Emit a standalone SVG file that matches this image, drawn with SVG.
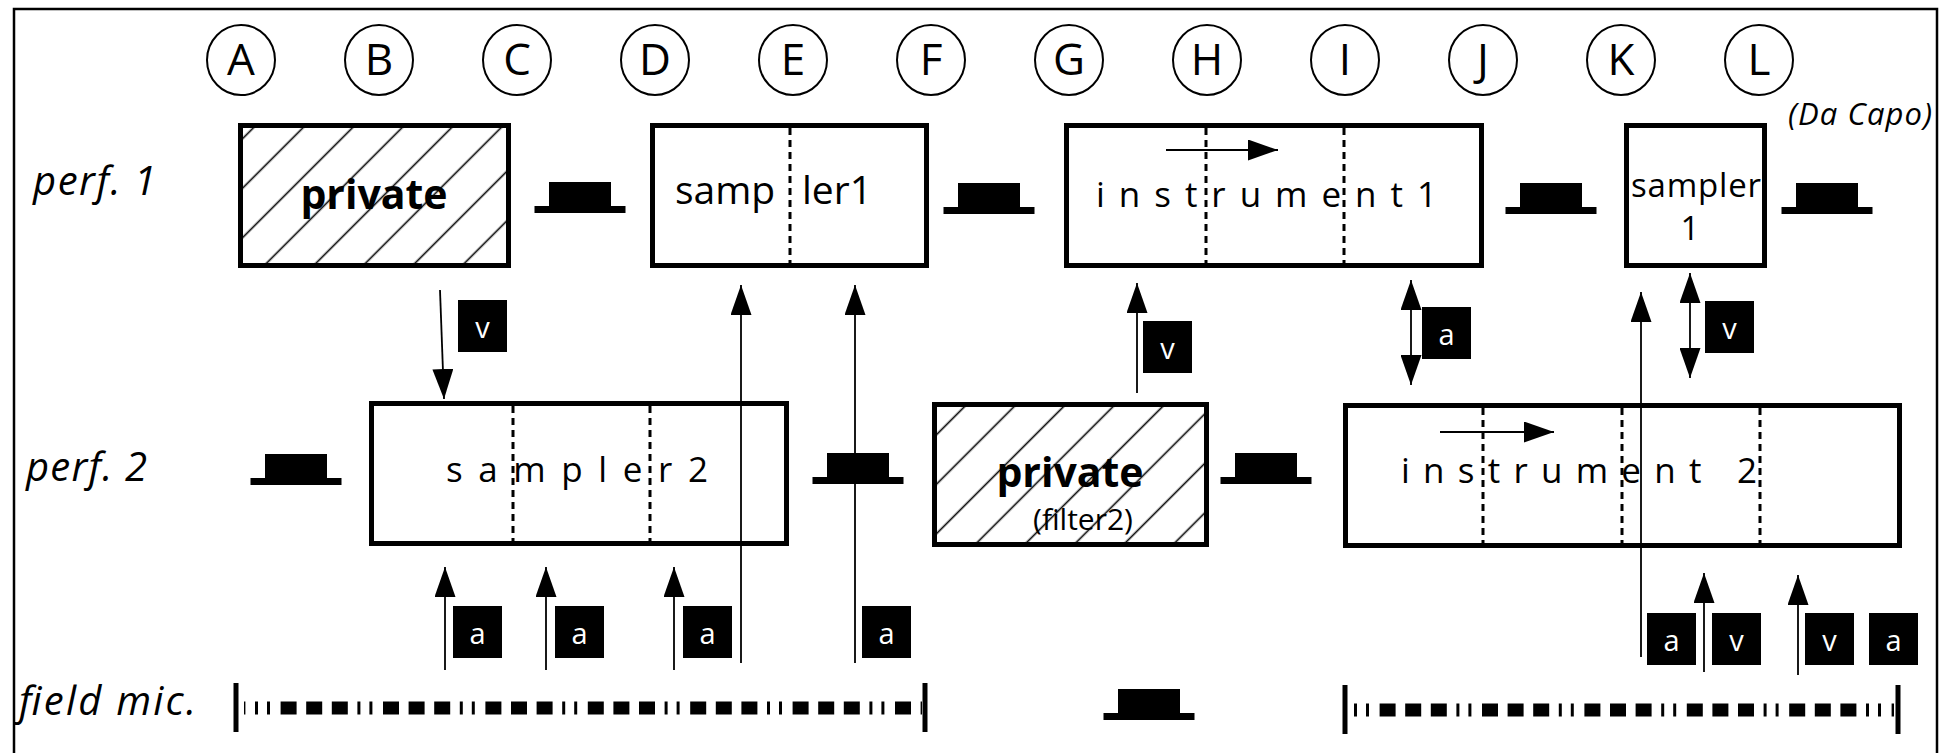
<svg xmlns="http://www.w3.org/2000/svg" width="1948" height="753" viewBox="0 0 1948 753">
<defs>
<style>
.box{fill:#fff;stroke:#000;stroke-width:5}
.hatched{fill:url(#hatch);stroke:#000;stroke-width:5}
.div{stroke:#000;stroke-width:3;stroke-dasharray:7 5}
.col{fill:none;stroke:#000;stroke-width:2}
.colt{font-family:"Open Sans","Noto Sans",sans-serif;font-size:44px;text-anchor:middle}
.lab{font-family:"Open Sans","Noto Sans",sans-serif;font-style:italic;font-size:40px}
.name{font-family:"Open Sans","Noto Sans",sans-serif;font-size:35px}
.priv{font-family:"Open Sans","Noto Sans",sans-serif;font-weight:bold;font-size:41px;text-anchor:middle}
.sub{font-family:"Open Sans","Noto Sans",sans-serif;font-size:30px;text-anchor:middle}
.wire{stroke:#000;stroke-width:1.8;fill:none}
.arr{marker-end:url(#ah)}
.dbl{marker-start:url(#ah);marker-end:url(#ah)}
.tagt{fill:#fff;font-family:"Open Sans","Noto Sans",sans-serif;font-size:29px;text-anchor:middle}
.mic{stroke:#000;stroke-width:13;stroke-dasharray:16 9.6 16 9.6 16 9.6 3 9 3 10.6;fill:none}
.end{stroke:#000;stroke-width:5}
</style>
<pattern id="hatch" patternUnits="userSpaceOnUse" width="35" height="35" patternTransform="translate(10,0) rotate(45)">
<rect width="35" height="35" fill="#fff"/>
<line x1="17.5" y1="0" x2="17.5" y2="35" stroke="#000" stroke-width="1.6"/>
</pattern>
<marker id="ah" markerUnits="userSpaceOnUse" markerWidth="30" markerHeight="21" refX="30" refY="10.5" orient="auto-start-reverse" viewBox="0 0 30 21">
<path d="M0,0 L30,10.5 L0,21 Z" fill="#000"/>
</marker>
<g id="hat">
<rect x="-31" y="-24" width="62" height="24" fill="#000"/>
<rect x="-45.5" y="0" width="91" height="7" fill="#000"/>
</g>
<rect id="tag" width="49" height="52" fill="#000"/>
</defs>

<rect x="0" y="0" width="1948" height="753" fill="#fff"/>
<!-- outer frame -->
<path d="M14,770 V9 H1937 V770" fill="none" stroke="#000" stroke-width="2.5"/>

<!-- column markers -->
<g id="columns">
<g id="col-A"><ellipse class="col" cx="241" cy="60" rx="34" ry="35"/><text class="colt" x="241" y="75">A</text></g>
<g id="col-B"><ellipse class="col" cx="379" cy="60" rx="34" ry="35"/><text class="colt" x="379" y="75">B</text></g>
<g id="col-C"><ellipse class="col" cx="517" cy="60" rx="34" ry="35"/><text class="colt" x="517" y="75">C</text></g>
<g id="col-D"><ellipse class="col" cx="655" cy="60" rx="34" ry="35"/><text class="colt" x="655" y="75">D</text></g>
<g id="col-E"><ellipse class="col" cx="793" cy="60" rx="34" ry="35"/><text class="colt" x="793" y="75">E</text></g>
<g id="col-F"><ellipse class="col" cx="931" cy="60" rx="34" ry="35"/><text class="colt" x="931" y="75">F</text></g>
<g id="col-G"><ellipse class="col" cx="1069" cy="60" rx="34" ry="35"/><text class="colt" x="1069" y="75">G</text></g>
<g id="col-H"><ellipse class="col" cx="1207" cy="60" rx="34" ry="35"/><text class="colt" x="1207" y="75">H</text></g>
<g id="col-I"><ellipse class="col" cx="1345" cy="60" rx="34" ry="35"/><text class="colt" x="1345" y="75">I</text></g>
<g id="col-J"><ellipse class="col" cx="1483" cy="60" rx="34" ry="35"/><text class="colt" x="1483" y="75">J</text></g>
<g id="col-K"><ellipse class="col" cx="1621" cy="60" rx="34" ry="35"/><text class="colt" x="1621" y="75">K</text></g>
<g id="col-L"><ellipse class="col" cx="1759" cy="60" rx="34" ry="35"/><text class="colt" x="1759" y="75">L</text></g>
</g>

<!-- row labels -->
<g id="row-labels">
<text class="lab" x="33" y="195" textLength="123" lengthAdjust="spacing">perf. 1</text>
<text class="lab" x="26" y="481" textLength="121" lengthAdjust="spacing">perf. 2</text>
<text class="lab" x="19" y="715" textLength="177" lengthAdjust="spacing">field mic.</text>
<text class="lab" x="1788" y="125" style="font-size:31px" textLength="144" lengthAdjust="spacing">(Da Capo)</text>
</g>

<!-- performer 1 -->
<g id="p1-private">
<rect class="hatched" x="240.5" y="125.5" width="268" height="140"/>
<text class="priv" x="374" y="209">private</text>
</g>
<g id="p1-sampler1">
<rect class="box" x="652.5" y="125.5" width="274" height="140"/>
<line class="div" x1="790" y1="128" x2="790" y2="263"/>
<text class="name" y="204" style="font-size:39px"><tspan x="675">samp</tspan> <tspan x="802">ler1</tspan></text>
</g>
<g id="p1-instrument1">
<rect class="box" x="1066.5" y="125.5" width="415" height="140"/>
<line class="div" x1="1206" y1="128" x2="1206" y2="263"/>
<line class="div" x1="1344" y1="128" x2="1344" y2="263"/>
<line class="wire arr" x1="1166" y1="150" x2="1278" y2="150"/>
<text class="name" x="1096" y="207" textLength="341" lengthAdjust="spacing">instrument1</text>
</g>
<g id="p1-sampler1-dacapo">
<rect class="box" x="1626.5" y="125.5" width="138" height="140"/>
<text class="name" x="1631" y="197" style="font-size:33px" textLength="130" lengthAdjust="spacing">sampler</text>
<text class="name" x="1690" y="240" style="font-size:33px;text-anchor:middle">1</text>
</g>

<!-- performer 2 -->
<g id="p2-sampler2">
<rect class="box" x="371.5" y="403.5" width="415" height="140"/>
<line class="div" x1="513" y1="406" x2="513" y2="541"/>
<line class="div" x1="650" y1="406" x2="650" y2="541"/>
<text class="name" x="446" y="482" textLength="262" lengthAdjust="spacing">sampler2</text>
</g>
<g id="p2-private">
<rect class="hatched" x="934.5" y="404.5" width="272" height="140"/>
<text class="priv" x="1070" y="487">private</text>
<text class="sub" x="1083" y="530">(filter2)</text>
</g>
<g id="p2-instrument2">
<rect class="box" x="1345.5" y="405.5" width="554" height="140"/>
<line class="div" x1="1483" y1="408" x2="1483" y2="543"/>
<line class="div" x1="1622" y1="408" x2="1622" y2="543"/>
<line class="div" x1="1760" y1="408" x2="1760" y2="543"/>
<line class="wire arr" x1="1440" y1="432" x2="1554" y2="432"/>
<text class="name" x="1401" y="483" textLength="356" lengthAdjust="spacing">instrument 2</text>
</g>

<!-- field microphone recordings -->
<g id="mic-1">
<line class="mic" x1="244" y1="708" x2="922" y2="708" stroke-dashoffset="65.8"/>
<line class="end" x1="236" y1="683" x2="236" y2="732"/>
<line class="end" x1="925" y1="683" x2="925" y2="732"/>
</g>
<g id="mic-2">
<line class="mic" x1="1351" y1="710" x2="1894" y2="710" stroke-dashoffset="73.8"/>
<line class="end" x1="1345" y1="685" x2="1345" y2="734"/>
<line class="end" x1="1898" y1="685" x2="1898" y2="734"/>
</g>

<!-- pauses -->
<g id="pauses">
<use href="#hat" x="580" y="206"/>
<use href="#hat" x="989" y="207"/>
<use href="#hat" x="1551" y="207"/>
<use href="#hat" x="1827" y="207"/>
<use href="#hat" x="296" y="478"/>
<use href="#hat" x="858" y="477"/>
<use href="#hat" x="1266" y="477"/>
<use href="#hat" x="1149" y="713"/>
</g>

<!-- signal connectors -->
<g id="connectors">
<line class="wire arr" x1="440" y1="290" x2="444" y2="399"/>
<line class="wire arr" x1="445" y1="670" x2="445" y2="567"/>
<line class="wire arr" x1="546" y1="670" x2="546" y2="567"/>
<line class="wire arr" x1="674" y1="670" x2="674" y2="567"/>
<line class="wire arr" x1="741" y1="663" x2="741" y2="285"/>
<line class="wire arr" x1="855" y1="663" x2="855" y2="285"/>
<line class="wire arr" x1="1137" y1="393" x2="1137" y2="283"/>
<line class="wire dbl" x1="1411" y1="280" x2="1411" y2="385"/>
<line class="wire arr" x1="1641" y1="657" x2="1641" y2="292"/>
<line class="wire dbl" x1="1690" y1="273" x2="1690" y2="378"/>
<line class="wire arr" x1="1704" y1="672" x2="1704" y2="573"/>
<line class="wire arr" x1="1798" y1="675" x2="1798" y2="575"/>

<g id="tags">
<use href="#tag" x="458" y="300"/><text class="tagt" x="482.5" y="338">v</text>
<use href="#tag" x="1143" y="321"/><text class="tagt" x="1167.5" y="359">v</text>
<use href="#tag" x="1422" y="307"/><text class="tagt" x="1446.5" y="345">a</text>
<use href="#tag" x="1705" y="301"/><text class="tagt" x="1729.5" y="339">v</text>
<use href="#tag" x="453" y="606"/><text class="tagt" x="477.5" y="644">a</text>
<use href="#tag" x="555" y="606"/><text class="tagt" x="579.5" y="644">a</text>
<use href="#tag" x="683" y="606"/><text class="tagt" x="707.5" y="644">a</text>
<use href="#tag" x="862" y="606"/><text class="tagt" x="886.5" y="644">a</text>
<use href="#tag" x="1647" y="613"/><text class="tagt" x="1671.5" y="651">a</text>
<use href="#tag" x="1712" y="613"/><text class="tagt" x="1736.5" y="651">v</text>
<use href="#tag" x="1805" y="613"/><text class="tagt" x="1829.5" y="651">v</text>
<use href="#tag" x="1869" y="613"/><text class="tagt" x="1893.5" y="651">a</text>
</g>
</g>
</svg>
